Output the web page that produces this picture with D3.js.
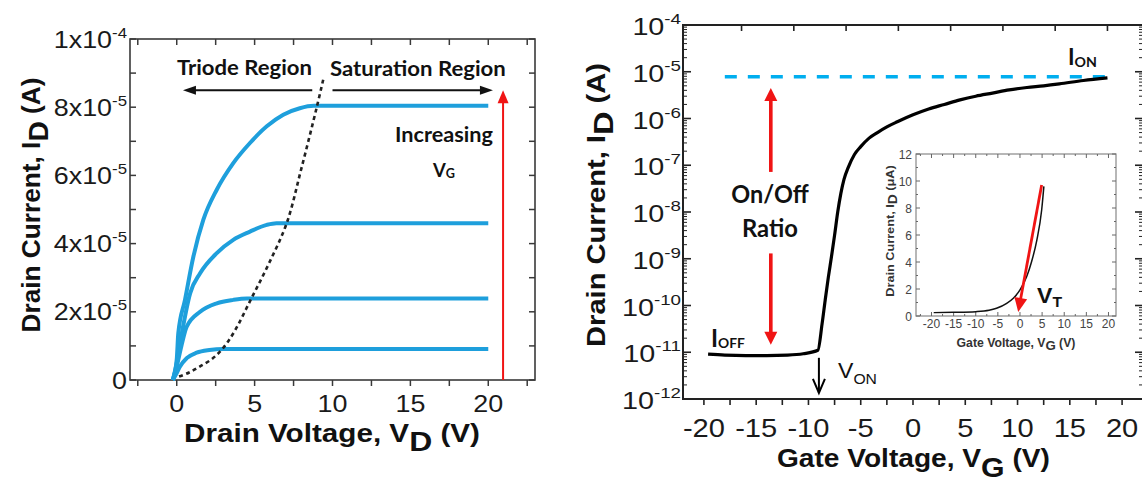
<!DOCTYPE html>
<html><head><meta charset="utf-8">
<script src="https://cdn.jsdelivr.net/npm/d3@7"></script>
<style>html,body{margin:0;padding:0;background:#fff;overflow:hidden}</style>
</head><body><svg id="c" width="1142" height="482"></svg>
<script>
// ================= DATA =================
// Left panel: output characteristics  (V_D in V, I_D in A)
const vdTickValues = [0, 5, 10, 15, 20];
const leftYTickValues = [0, 2e-5, 4e-5, 6e-5, 8e-5, 1e-4];
const leftYTickMantissa = ["0", "2x10", "4x10", "6x10", "8x10", "1x10"];
const leftYTickExponent = ["", "-5", "-5", "-5", "-5", "-4"];

const vdCurve1 = [-0.25, 0, 0.1, 0.53, 1.07, 1.71, 2.57, 3.63, 4.7, 5.78, 6.84, 7.9, 8.8, 20];
const idCurve1 = [0, 0.6e-5, 1.37e-5, 2.35e-5, 3.62e-5, 4.7e-5, 5.58e-5, 6.36e-5, 6.95e-5, 7.44e-5, 7.78e-5, 7.97e-5, 8.04e-5, 8.04e-5];
const vdCurve2 = [-0.25, 0, 0.3, 0.86, 1.5, 2.57, 3.63, 4.7, 5.78, 6.4, 20];
const idCurve2 = [0, 0.5e-5, 1.3e-5, 2.54e-5, 3.13e-5, 3.72e-5, 4.11e-5, 4.35e-5, 4.55e-5, 4.6e-5, 4.6e-5];
const vdCurve3 = [-0.25, 0, 0.3, 0.64, 1.5, 2.57, 3.63, 4.5, 20];
const idCurve3 = [0, 0.4e-5, 1.0e-5, 1.56e-5, 2.0e-5, 2.25e-5, 2.35e-5, 2.39e-5, 2.39e-5];
const vdCurve4 = [-0.25, 0, 0.2, 0.64, 1.28, 2.1, 3.0, 20];
const idCurve4 = [0, 0.2e-5, 0.39e-5, 0.64e-5, 0.8e-5, 0.88e-5, 0.91e-5, 0.91e-5];

const vdBoundary = [0.15, 0.8, 1.5, 2.3, 3.0, 3.7, 4.8, 5.9, 7.06, 8.0, 9.0, 9.45];
const idBoundary = [0.1e-5, 0.22e-5, 0.4e-5, 0.63e-5, 0.95e-5, 1.42e-5, 2.4e-5, 3.4e-5, 4.6e-5, 6.2e-5, 8.02e-5, 8.9e-5];

// Right panel: transfer characteristic (V_G in V, I_D in A, log)
const vgTickValues = [-20, -15, -10, -5, 0, 5, 10, 15, 20];
const vgTopTickValues = [-16.4, -11.4, -6.4, -1.4, 3.6, 8.6, 13.6, 18.6];
const idDecadeExponents = [-12, -11, -10, -9, -8, -7, -6, -5, -4];

const vgMain = [-19.6, -18, -16, -14, -12, -10.5, -9.1, -8.7, -8.4, -8.1, -7.8, -7.5, -7.2, -6.9, -6.6, -6.2, -5.6, -5.0, -4.2, -3.4, -2.5, -1.5, 0, 1.5, 3, 4.5, 6, 7.6, 9.2, 10.9, 12.5, 14, 16.3, 18.6];
const idMain = [9.1e-12, 8.7e-12, 8.5e-12, 8.5e-12, 8.7e-12, 9.3e-12, 1.1e-11, 4.0e-11, 1.3e-10, 4.0e-10, 1.1e-9, 3.2e-9, 1.0e-8, 2.5e-8, 5.0e-8, 8.9e-8, 1.7e-7, 2.5e-7, 3.8e-7, 5.0e-7, 6.6e-7, 8.5e-7, 1.2e-6, 1.6e-6, 2.0e-6, 2.5e-6, 3.0e-6, 3.5e-6, 4.1e-6, 4.6e-6, 5.0e-6, 5.5e-6, 6.5e-6, 7.4e-6];

const ionLevel = 7.8e-6;
const ionLineRange = [-18.0, 18.6];

// Inset: linear transfer curve (I_D in uA)
const insetXTickValues = [-20, -15, -10, -5, 0, 5, 10, 15, 20];
const insetYTickValues = [0, 2, 4, 6, 8, 10, 12];
const vgInset = [-19.5, -15, -10, -7, -5.3, -3, -1.5, 0, 1.5, 2.6, 3.8, 4.9, 5.4];
const idInset = [0.25, 0.27, 0.32, 0.42, 0.57, 0.94, 1.31, 1.93, 2.9, 4.0, 5.6, 7.85, 9.6];
const vtTangent = [[4.9, 9.7], [-0.4, 0.3]];

// ================= DRAW =================
const FONT_A = "'Liberation Sans', Arial, Helvetica, sans-serif";
const FONT_C = "Lato, 'Open Sans', sans-serif";
const BLUE = "#1e9fdc", CYAN = "#00aeef", RED = "#f01414";

const svg = d3.select('#c');
svg.append('rect').attr('width', 1142).attr('height', 482).attr('fill', '#fff');

function txt(parent, x, y, parts, o) {
  const t = parent.append('text')
    .attr('text-anchor', o.anchor || 'start')
    .style('font-family', o.family || FONT_A)
    .style('font-size', o.size + 'px')
    .style('font-weight', o.weight || 'normal')
    .attr('fill', o.fill || '#111');
  let cur = 0;
  parts.forEach(p => {
    const s = t.append('tspan').text(p.t);
    const d = p.dy || 0;
    if (d - cur !== 0) s.attr('dy', d - cur);
    cur = d;
    if (p.size) s.style('font-size', p.size + 'px');
  });
  let sx = o.sx || 1;
  if (o.w) { const bw = t.node().getBBox().width; if (bw > 0) sx = o.w / bw; }
  t.attr('transform', `translate(${x},${y})` + (o.rot ? ` rotate(${o.rot})` : '') + ` scale(${sx},1)`);
  return t;
}

function arrow(g, x1, y1, x2, y2, o) {
  const a = Math.atan2(y2 - y1, x2 - x1);
  const bx = x2 - o.len * Math.cos(a), by = y2 - o.len * Math.sin(a);
  const px = -Math.sin(a) * o.half, py = Math.cos(a) * o.half;
  if (o.open) {
    g.append('line').attr('x1', x1).attr('y1', y1).attr('x2', x2).attr('y2', y2)
      .attr('stroke', o.color).attr('stroke-width', o.width);
    g.append('path').attr('d', `M${bx + px},${by + py}L${x2},${y2}L${bx - px},${by - py}`)
      .attr('fill', 'none').attr('stroke', o.color).attr('stroke-width', o.width);
  } else {
    g.append('line').attr('x1', x1).attr('y1', y1)
      .attr('x2', bx + Math.cos(a)).attr('y2', by + Math.sin(a))
      .attr('stroke', o.color).attr('stroke-width', o.width);
    g.append('path').attr('d', `M${x2},${y2}L${bx + px},${by + py}L${bx - px},${by - py}Z`).attr('fill', o.color);
  }
}

function tick(g, x1, y1, x2, y2, color, w) {
  g.append('line').attr('x1', x1).attr('y1', y1).attr('x2', x2).attr('y2', y2)
    .attr('stroke', color).attr('stroke-width', w);
}

// ---------- LEFT PANEL ----------
const gL = svg.append('g');
const xL = d3.scaleLinear().domain([-3, 23]).range([130, 535]);
const yL = d3.scaleLinear().domain([0, 1e-4]).range([380, 39]);
const LC = '#3a3a3a';

d3.range(-2.5, 23, 2.5).forEach(v => {
  tick(gL, xL(v), yL(0), xL(v), yL(0) + 6, LC, 1.5);
  tick(gL, xL(v), yL(1e-4), xL(v), yL(1e-4) + 6, LC, 1.5);
});
d3.range(0, 11).forEach(i => {
  const v = i * 1e-5;
  tick(gL, xL(-3), yL(v), xL(-3) + 6, yL(v), LC, 1.5);
  tick(gL, xL(23), yL(v), xL(23) - 6, yL(v), LC, 1.5);
});
gL.append('rect').attr('x', xL(-3)).attr('y', yL(1e-4))
  .attr('width', xL(23) - xL(-3)).attr('height', yL(0) - yL(1e-4))
  .attr('fill', 'none').attr('stroke', LC).attr('stroke-width', 1.6);

vdTickValues.forEach(v => txt(gL, xL(v), 412, [{ t: String(v) }], { size: 24, anchor: 'middle', sx: 1.12, fill: '#1a1a1a' }));
leftYTickValues.forEach((v, i) => txt(gL, 127, yL(v) + 8.5,
  [{ t: leftYTickMantissa[i] }, { t: leftYTickExponent[i], dy: -10, size: 15 }],
  { size: 24, anchor: 'end', sx: 1.12, fill: '#1a1a1a' }));

txt(gL, 332, 442, [{ t: 'Drain Voltage, V' }, { t: 'D', dy: 9, size: 28 }, { t: ' (V)', dy: 0 }],
  { size: 26, weight: 'bold', anchor: 'middle', w: 296 });
txt(gL, 40, 205, [{ t: 'Drain Current, I' }, { t: 'D', dy: 8, size: 28 }, { t: ' (A)', dy: 0 }],
  { size: 26, weight: 'bold', anchor: 'middle', rot: -90, w: 255 });

const lineL = d3.line().x(d => xL(d[0])).y(d => yL(d[1])).curve(d3.curveMonotoneX);
[[vdCurve1, idCurve1], [vdCurve2, idCurve2], [vdCurve3, idCurve3], [vdCurve4, idCurve4]].forEach(([vx, vy]) => {
  gL.append('path').attr('d', lineL(vx.map((v, i) => [v, vy[i]])))
    .attr('fill', 'none').attr('stroke', BLUE).attr('stroke-width', 4).attr('stroke-linejoin', 'round');
});
gL.append('path').attr('d', d3.line().x(d => xL(d[0])).y(d => yL(d[1])).curve(d3.curveCatmullRom)(vdBoundary.map((v, i) => [v, idBoundary[i]])))
  .attr('fill', 'none').attr('stroke', '#222').attr('stroke-width', 2.6).attr('stroke-dasharray', '4,3.5');

// region arrows
arrow(gL, xL(8.7), yL(8.5e-5), xL(0.4), yL(8.5e-5), { len: 13, half: 4.5, color: '#111', width: 2 });
arrow(gL, xL(10.0), yL(8.5e-5), xL(20.3), yL(8.5e-5), { len: 13, half: 4.5, color: '#111', width: 2 });
arrow(gL, xL(20.95), yL(0), xL(20.95), yL(8.5e-5), { len: 13, half: 5.5, color: RED, width: 2 });

txt(gL, 177, 75, [{ t: 'Triode Region' }], { size: 21, weight: 'bold', family: FONT_C, w: 135 });
txt(gL, 330, 76, [{ t: 'Saturation Region' }], { size: 21, weight: 'bold', family: FONT_C, w: 176 });
txt(gL, 395, 142, [{ t: 'Increasing' }], { size: 21, weight: 'bold', family: FONT_C, w: 98 });
txt(gL, 433, 177, [{ t: 'V' }, { t: 'G', dy: 1, size: 13 }], { size: 19, weight: 'bold', family: FONT_C, w: 23 });

// ---------- RIGHT PANEL ----------
const gR = svg.append('g');
const xR = d3.scaleLinear().domain([-22, 22]).range([683, 1143]);
const yR = d3.scaleLog().domain([1e-12, 1e-4]).range([399, 25]);
const RC = '#222';

d3.range(-20, 20.01, 2.5).forEach(v => tick(gR, xR(v), yR(1e-12), xR(v), yR(1e-12) + 6, RC, 1.6));
vgTopTickValues.forEach(v => tick(gR, xR(v), yR(1e-4), xR(v), yR(1e-4) + 6, RC, 1.6));
idDecadeExponents.forEach(e => {
  const v = Math.pow(10, e);
  tick(gR, xR(-22), yR(v), xR(-22) + 8, yR(v), RC, 1.6);
  tick(gR, xR(22), yR(v), xR(22) - 8, yR(v), RC, 1.6);
  if (e < -4) d3.range(2, 10).forEach(m => {
    const mv = m * v;
    tick(gR, xR(-22), yR(mv), xR(-22) + 4, yR(mv), RC, 1);
    tick(gR, xR(22), yR(mv), xR(22) - 4, yR(mv), RC, 1);
  });
});
gR.append('path').attr('d', `M${xR(22)},${yR(1e-4)}H${xR(-22)}V${yR(1e-12)}H${xR(22)}Z`)
  .attr('fill', 'none').attr('stroke', RC).attr('stroke-width', 2);

idDecadeExponents.forEach(e => txt(gR, 681, yR(Math.pow(10, e)) + 10,
  [{ t: '10' }, { t: String(e), dy: -11, size: 15 }], { size: 23, anchor: 'end', sx: 1.25, fill: '#1a1a1a' }));
vgTickValues.forEach(v => txt(gR, xR(v), 437, [{ t: String(v) }], { size: 26, anchor: 'middle', sx: 1.12, fill: '#1a1a1a' }));

txt(gR, 777, 467, [{ t: 'Gate Voltage, V' }, { t: 'G', dy: 10, size: 28 }, { t: ' (V)', dy: 0 }],
  { size: 26, weight: 'bold', w: 273 });
txt(gR, 605, 205, [{ t: 'Drain Current, I' }, { t: 'D', dy: 8, size: 28 }, { t: ' (A)', dy: 0 }],
  { size: 25, weight: 'bold', anchor: 'middle', rot: -90, w: 284 });

// I_ON dashed level
gR.append('line').attr('x1', xR(ionLineRange[0])).attr('x2', xR(ionLineRange[1]))
  .attr('y1', yR(ionLevel)).attr('y2', yR(ionLevel))
  .attr('stroke', CYAN).attr('stroke-width', 3.4).attr('stroke-dasharray', '12,11');

const lineR = d3.line().x(d => xR(d[0])).y(d => yR(d[1])).curve(d3.curveMonotoneX);
gR.append('path').attr('d', lineR(vgMain.map((v, i) => [v, idMain[i]])))
  .attr('fill', 'none').attr('stroke', '#000').attr('stroke-width', 3.2).attr('stroke-linejoin', 'round');

// On/Off ratio arrows
arrow(gR, xR(-13.6), yR(7.2e-8), xR(-13.6), yR(4.5e-6), { len: 13, half: 6.5, color: RED, width: 3.6 });
arrow(gR, xR(-13.6), yR(1.3e-9), xR(-13.6), yR(1.45e-11), { len: 13, half: 6.5, color: RED, width: 3.6 });
txt(gR, 770, 203, [{ t: 'On/Off' }], { size: 24, weight: 'bold', family: FONT_C, anchor: 'middle', w: 78 });
txt(gR, 770, 237, [{ t: 'Ratio' }], { size: 24, weight: 'bold', family: FONT_C, anchor: 'middle', w: 56 });

txt(gR, 711, 347, [{ t: 'I' }, { t: 'OFF', dy: 1, size: 14 }], { size: 24, weight: 'bold', family: FONT_C, w: 34 });
txt(gR, 1068, 65, [{ t: 'I' }, { t: 'ON', dy: 2, size: 14 }], { size: 22, weight: 'bold', family: FONT_C, w: 29 });

// V_ON arrow
arrow(gR, xR(-9.0), yR(7.6e-12), xR(-9.0), yR(1.35e-12), { len: 14, half: 6, color: '#000', width: 2, open: true });
txt(gR, 838, 378, [{ t: 'V' }, { t: 'ON', dy: 6, size: 15 }], { size: 22, w: 39 });

// ---------- INSET ----------
const gI = svg.append('g');
const xI = d3.scaleLinear().domain([-23.5, 21.7]).range([916, 1116]);
const yI = d3.scaleLinear().domain([0, 12]).range([316, 154]);
const IC = '#666';
gI.append('rect').attr('x', xI(-23.5)).attr('y', yI(12)).attr('width', xI(21.7) - xI(-23.5))
  .attr('height', yI(0) - yI(12)).attr('fill', '#fff').attr('stroke', '#888').attr('stroke-width', 1.2);
d3.range(-22.5, 21, 2.5).forEach(v => {
  const L = (v % 5 === 0) ? 4 : 2;
  tick(gI, xI(v), yI(0), xI(v), yI(0) - L, IC, 1);
  tick(gI, xI(v), yI(12), xI(v), yI(12) + L, IC, 1);
});
d3.range(0, 12.01, 1).forEach(v => {
  const L = (v % 2 === 0) ? 4 : 2;
  tick(gI, xI(-23.5), yI(v), xI(-23.5) + L, yI(v), IC, 1);
  tick(gI, xI(21.7), yI(v), xI(21.7) - L, yI(v), IC, 1);
});
insetYTickValues.forEach(v => txt(gI, 912, yI(v) + 4.5, [{ t: String(v) }], { size: 12, anchor: 'end', fill: '#444' }));
insetXTickValues.forEach(v => txt(gI, xI(v), 328, [{ t: String(v) }], { size: 12, anchor: 'middle', fill: '#444' }));
txt(gI, 1016, 347, [{ t: 'Gate Voltage, V' }, { t: 'G', dy: 3, size: 13 }, { t: ' (V)', dy: 0 }],
  { size: 12, weight: 'bold', anchor: 'middle', fill: '#333', w: 119 });
txt(gI, 894, 231, [{ t: 'Drain Current, I' }, { t: 'D', dy: 3, size: 12 }, { t: ' (\u03bcA)', dy: 0 }],
  { size: 11, weight: 'bold', anchor: 'middle', rot: -90, fill: '#333', w: 132 });

const lineI = d3.line().x(d => xI(d[0])).y(d => yI(d[1])).curve(d3.curveMonotoneX);
gI.append('path').attr('d', lineI(vgInset.map((v, i) => [v, idInset[i]])))
  .attr('fill', 'none').attr('stroke', '#111').attr('stroke-width', 1.5);
arrow(gI, xI(vtTangent[0][0]), yI(vtTangent[0][1]), xI(vtTangent[1][0]), yI(vtTangent[1][1]),
  { len: 14, half: 6.5, color: RED, width: 2.8 });
txt(gI, 1037, 303, [{ t: 'V' }, { t: 'T', dy: 4, size: 15 }], { size: 22, weight: 'bold', w: 25 });
</script></body></html>
